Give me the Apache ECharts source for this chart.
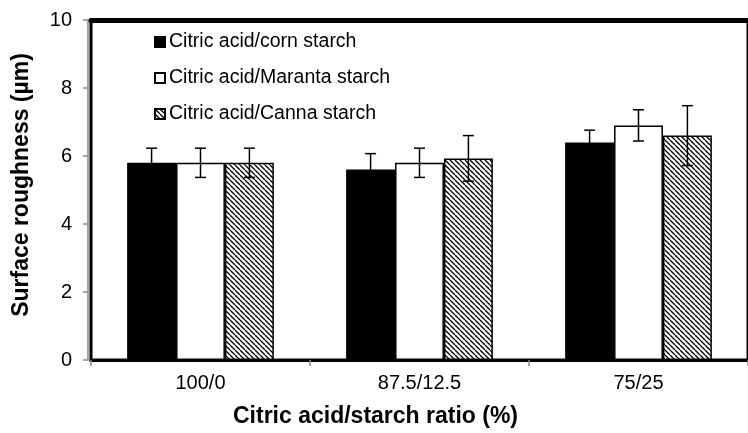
<!DOCTYPE html>
<html>
<head>
<meta charset="utf-8">
<script src="https://cdn.jsdelivr.net/npm/echarts@6/dist/echarts.min.js"></script>
<style>html,body{margin:0;padding:0;background:#fff}#c{width:748px;height:433px}</style>
</head>
<body>
<div id="c"></div>
<script>
var categories = ['100/0', '87.5/12.5', '75/25'];
var seriesNames = ['Citric acid/corn starch', 'Citric acid/Maranta starch', 'Citric acid/Canna starch'];
var cornValues = [5.80, 5.60, 6.40];
var marantaValues = [5.80, 5.80, 6.90];
var cannaValues = [5.80, 5.93, 6.60];
var cornErrors = [0.43, 0.47, 0.36];
var marantaErrors = [0.43, 0.43, 0.46];
var cannaErrors = [0.43, 0.67, 0.88];
var yTicks = [0, 2, 4, 6, 8, 10];

function hatch() {
  var s = 5;
  var c = document.createElement('canvas');
  c.width = s; c.height = s;
  var g = c.getContext('2d');
  g.fillStyle = '#fff'; g.fillRect(0, 0, s, s);
  g.strokeStyle = '#000'; g.lineWidth = 1.3;
  [-s, 0, s].forEach(function (k) {
    g.beginPath(); g.moveTo(k, 0); g.lineTo(k + s, s); g.stroke();
  });
  return c;
}

var chart = echarts.init(document.getElementById('c'));
var font = 'Liberation Sans, Arial, sans-serif';
var fills = ['#000000', '#ffffff', { image: hatch(), repeat: 'repeat' }];
var vals = [cornValues, marantaValues, cannaValues];
var errs = [cornErrors, marantaErrors, cannaErrors];
var gapFrac = 0.33;

var series = [];
vals.forEach(function (v, i) {
  series.push({
    name: seriesNames[i], type: 'bar', data: v,
    barGap: 0, barCategoryGap: (gapFrac * 100) + '%',
    itemStyle: { color: fills[i], borderColor: '#000', borderWidth: 1.5 },
    emphasis: { disabled: true }
  });
});
errs.forEach(function (e, i) {
  series.push({
    type: 'custom', z: 10, silent: true,
    data: vals[i].map(function (v, j) { return [j, v - e[j], v + e[j]]; }),
    renderItem: function (params, api) {
      var band = api.size([1, 0])[0];
      var bw = band * (1 - gapFrac) / 3;
      var off = (i - 1) * bw;
      var lo = api.coord([api.value(0), api.value(1)]);
      var hi = api.coord([api.value(0), api.value(2)]);
      var x = lo[0] + off;
      var cap = 5.5;
      var st = { stroke: '#000', lineWidth: 1.5 };
      return { type: 'group', children: [
        { type: 'line', shape: { x1: x, y1: lo[1], x2: x, y2: hi[1] }, style: st },
        { type: 'line', shape: { x1: x - cap, y1: lo[1], x2: x + cap, y2: lo[1] }, style: st },
        { type: 'line', shape: { x1: x - cap, y1: hi[1], x2: x + cap, y2: hi[1] }, style: st }
      ] };
    }
  });
});

chart.setOption({
  animation: false,
  textStyle: { fontFamily: font },
  grid: { left: 91, right: -9, top: 20, bottom: 73, show: true, borderColor: '#000', borderWidth: 3 },
  legend: {
    data: seriesNames, orient: 'vertical', left: 149, top: 27, icon: 'rect',
    itemWidth: 10, itemHeight: 10, itemGap: 16,
    textStyle: { fontFamily: font, fontSize: 19.5, lineHeight: 20, color: '#000', padding: [0, 0, 0, -1] },
    selectedMode: false
  },
  xAxis: [{
    type: 'category', data: categories,
    name: 'Citric acid/starch ratio (%)', nameLocation: 'middle', nameGap: 45,
    nameTextStyle: { fontFamily: font, fontSize: 23, fontWeight: 'bold', color: '#000', padding: [0, 88, 0, 0] },
    axisLine: { lineStyle: { color: '#000', width: 3 } },
    axisTick: { show: true, length: 6, lineStyle: { color: '#888', width: 1.5 } },
    axisLabel: { fontSize: 20, color: '#000', margin: 13 }
  }, {
    type: 'category', data: categories, position: 'top',
    axisLine: { lineStyle: { color: '#000', width: 5 } },
    axisTick: { show: false }, axisLabel: { show: false }
  }],
  yAxis: {
    type: 'value', min: yTicks[0], max: yTicks[yTicks.length - 1], interval: 2, offset: 3,
    name: 'Surface roughness (µm)', nameLocation: 'middle', nameGap: 55,
    nameTextStyle: { fontFamily: font, fontSize: 23, fontWeight: 'bold', color: '#000', padding: [0, 0, 0, 10] },
    axisLine: { show: true, lineStyle: { color: '#888', width: 1.5 } },
    axisTick: { show: true, length: 5, lineStyle: { color: '#888', width: 1.5 } },
    axisLabel: { fontSize: 20, color: '#000', margin: 16 },
    splitLine: { show: false }
  },
  series: series
});
</script>
</body>
</html>
